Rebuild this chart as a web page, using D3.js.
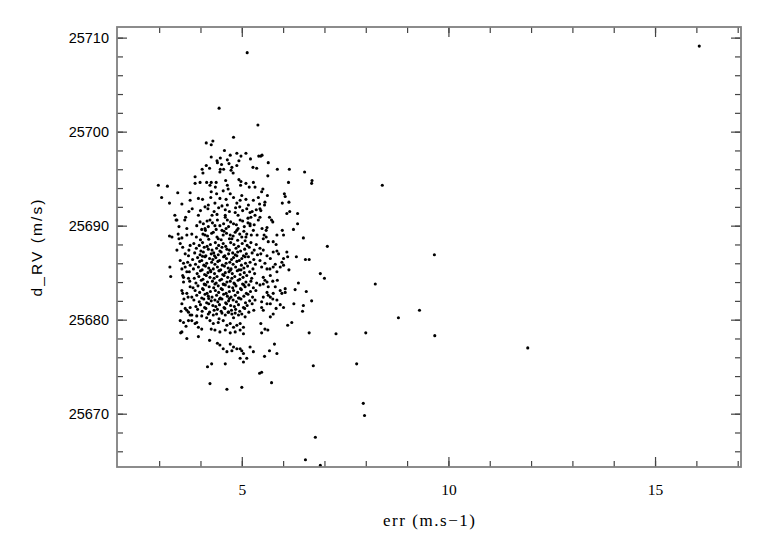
<!DOCTYPE html>
<html>
<head>
<meta charset="utf-8">
<script src="https://cdn.jsdelivr.net/npm/d3@7"></script>
<style>
  html, body { margin: 0; padding: 0; background: #fff; }
  svg { display: block; }
</style>
</head>
<body>
<div id="chart"></div>
<script>
// ---- data: [err (m.s-1), d_RV (m/s)] ----
const topCluster = [
[4.80,25699.4],[4.14,25698.8],[4.26,25698.6],[4.30,25699.0],[4.58,25698.0],[4.72,25697.5],[4.88,25697.7],[4.98,25697.4],[5.10,25697.7],[5.41,25697.4],
[4.26,25697.3],[4.48,25697.2],[4.40,25696.9],[4.65,25697.0],[4.69,25696.6],[4.93,25696.9],[4.88,25696.4],[5.21,25697.1],[5.27,25696.2],[5.36,25696.1],
[4.14,25696.4],[4.22,25696.1],[4.04,25696.0],[4.06,25695.6],[4.41,25696.7],[4.51,25696.5],[4.48,25696.0],[4.47,25695.7],[4.56,25696.0],[4.76,25696.2],
[4.74,25695.9],[4.79,25695.6],[3.87,25694.5],[3.99,25694.6],[4.15,25694.6],[4.26,25694.6],[4.23,25694.3],[4.38,25694.6],[4.36,25694.1],[4.61,25694.8],
[4.65,25694.3],[4.67,25693.9],[4.55,25693.7],[4.93,25694.9],[4.98,25694.7],[4.97,25694.3],[5.10,25694.5],[5.18,25694.1],[5.28,25694.6],[5.32,25694.1],
[3.75,25692.7],[3.80,25691.8],[4.05,25692.8],[3.95,25691.1],[4.11,25692.0],[4.25,25693.0],[4.19,25692.2],[4.26,25693.6],[4.39,25693.4],[4.35,25692.4],
[4.47,25692.9],[4.52,25692.1],[4.62,25692.8],[4.65,25692.2],[4.72,25693.4],[4.80,25693.0],[4.88,25692.4],[4.96,25692.7],[5.00,25693.2],[5.10,25692.8],
[5.16,25692.2],[5.28,25692.7],[5.40,25693.0],[3.41,25690.6],[3.62,25690.6],[3.48,25689.9],[3.67,25689.7],[3.79,25689.1],[3.91,25690.0],[3.99,25690.4],
[4.03,25689.6],[4.11,25689.0],[4.19,25689.9],[4.23,25690.6],[4.31,25689.3],[4.47,25690.0],[4.52,25689.5],[4.65,25690.6],[4.68,25689.9],[4.72,25689.0],
[4.80,25690.2],[4.88,25689.5],[4.96,25690.6],[5.00,25688.8],[5.06,25689.9],[5.12,25689.1],[5.20,25690.2],[5.28,25689.5],[5.40,25690.6],[3.55,25688.7],
[3.67,25689.0],[3.46,25689.1],[4.60,25691.1],[4.84,25691.4],[5.20,25690.0],[5.32,25691.1],[4.35,25690.0],[4.43,25688.6],[4.76,25688.6],[4.91,25691.1],
[5.08,25688.4],[5.20,25691.4],[5.37,25689.0],[4.57,25689.4],[4.28,25691.1],[4.11,25689.7],[4.91,25689.7],[5.15,25690.8]
];
const leftWing = [
[2.98,25694.3],[3.20,25694.2],[3.06,25693.0],[3.25,25692.4],[3.45,25693.5],[3.75,25693.5],[3.87,25695.2],[3.55,25692.3],[3.95,25692.9],[3.38,25691.1],
[3.43,25690.6],[3.64,25690.9],[3.72,25691.5],[3.25,25688.9],[3.31,25688.8],[3.48,25688.6],[3.26,25685.6],[3.57,25687.7],[3.63,25687.0],[3.51,25686.3],
[3.55,25685.4],[3.59,25684.5],[3.57,25682.8],[3.55,25681.7],[3.63,25681.2],[3.53,25680.9],[3.51,25679.9],[3.65,25679.3],[3.75,25680.5],[3.91,25680.4],
[3.51,25688.1],[3.43,25687.4],[3.75,25687.9],[3.71,25686.8],[3.59,25686.0],[3.63,25685.6],[3.67,25685.1],[3.75,25685.8],[3.57,25684.7],[3.28,25684.6],
[3.71,25684.4],[3.59,25684.0],[3.75,25683.5],[3.55,25683.1],[3.67,25682.8],[3.60,25682.2],[3.79,25682.4],[3.75,25681.3],[3.67,25681.0],[3.79,25680.5],
[3.59,25679.7],[3.71,25679.9],[3.87,25679.6],[3.55,25678.7],[3.67,25678.0],[4.03,25679.0],[3.95,25678.2],[3.52,25678.6]
];
const core = [
[3.84,25688.1],[3.97,25687.9],[4.05,25688.2],[4.16,25687.8],[4.24,25688.0],[4.36,25688.2],[4.44,25687.9],[4.55,25688.1],[4.61,25687.8],[4.73,25688.2],[4.81,25688.0],[4.92,25687.8],[5.01,25688.1],[5.13,25687.9],[5.22,25688.2],[5.35,25688.0],
[3.72,25687.4],[3.90,25687.6],[4.01,25687.3],[4.09,25687.7],[4.19,25687.5],[4.28,25687.4],[4.39,25687.6],[4.47,25687.3],[4.52,25687.7],[4.64,25687.5],[4.70,25687.4],[4.86,25687.6],[4.97,25687.3],[5.07,25687.5],[5.18,25687.7],[5.30,25687.4],
[3.86,25687.1],[3.99,25686.9],[4.07,25687.2],[4.13,25686.8],[4.26,25687.0],[4.32,25687.1],[4.43,25686.9],[4.50,25687.2],[4.59,25686.8],[4.68,25687.0],[4.78,25687.1],[4.84,25686.9],[4.90,25687.2],[5.04,25686.8],[5.11,25687.0],[5.25,25687.1],[5.38,25686.9],
[3.81,25686.4],[3.93,25686.6],[4.03,25686.3],[4.11,25686.7],[4.22,25686.5],[4.30,25686.4],[4.37,25686.6],[4.46,25686.3],[4.56,25686.7],[4.63,25686.5],[4.75,25686.4],[4.80,25686.6],[4.94,25686.3],[5.00,25686.5],[5.16,25686.7],[5.29,25686.4],
[3.69,25686.1],[3.88,25685.9],[3.98,25686.2],[4.08,25685.8],[4.15,25686.0],[4.27,25686.1],[4.35,25685.9],[4.42,25686.2],[4.53,25685.8],[4.62,25686.0],[4.71,25686.1],[4.79,25685.9],[4.88,25686.2],[4.99,25685.8],[5.09,25686.0],[5.20,25686.1],[5.33,25685.9],
[3.83,25685.4],[3.95,25685.6],[4.04,25685.3],[4.12,25685.7],[4.20,25685.5],[4.31,25685.4],[4.41,25685.6],[4.49,25685.3],[4.58,25685.7],[4.67,25685.5],[4.74,25685.4],[4.85,25685.6],[4.93,25685.3],[5.05,25685.5],[5.14,25685.7],[5.27,25685.4],
[3.73,25685.1],[3.92,25684.9],[4.00,25685.2],[4.10,25684.8],[4.18,25685.0],[4.25,25685.1],[4.34,25684.9],[4.45,25685.2],[4.54,25684.8],[4.60,25685.0],[4.69,25685.1],[4.77,25684.9],[4.89,25685.2],[4.96,25684.8],[5.06,25685.0],[5.19,25685.1],[5.31,25684.9],
[3.85,25684.4],[3.96,25684.6],[4.06,25684.3],[4.14,25684.7],[4.23,25684.5],[4.33,25684.4],[4.40,25684.6],[4.51,25684.3],[4.57,25684.7],[4.66,25684.5],[4.76,25684.4],[4.83,25684.6],[4.95,25684.3],[5.03,25684.5],[5.12,25684.7],[5.24,25684.4],
[3.74,25684.1],[3.89,25683.9],[4.02,25684.2],[4.09,25683.8],[4.17,25684.0],[4.29,25684.1],[4.38,25683.9],[4.47,25684.2],[4.55,25683.8],[4.64,25684.0],[4.72,25684.1],[4.81,25683.9],[4.91,25684.2],[5.02,25683.8],[5.10,25684.0],[5.22,25684.1],[5.36,25683.9],
[3.82,25683.4],[3.94,25683.6],[4.05,25683.3],[4.13,25683.7],[4.21,25683.5],[4.32,25683.4],[4.43,25683.6],[4.50,25683.3],[4.60,25683.7],[4.69,25683.5],[4.78,25683.4],[4.86,25683.6],[4.97,25683.3],[5.08,25683.5],[5.17,25683.7],[5.28,25683.4],
[3.87,25683.1],[3.98,25682.9],[4.07,25683.2],[4.16,25682.8],[4.24,25683.0],[4.36,25683.1],[4.44,25682.9],[4.53,25683.2],[4.62,25682.8],[4.70,25683.0],[4.80,25683.1],[4.90,25682.9],[4.99,25683.2],[5.11,25682.8],[5.21,25683.0],[5.34,25683.1],
[3.70,25682.4],[3.91,25682.6],[4.03,25682.3],[4.11,25682.7],[4.19,25682.5],[4.28,25682.4],[4.39,25682.6],[4.48,25682.3],[4.56,25682.7],[4.65,25682.5],[4.74,25682.4],[4.84,25682.6],[4.94,25682.3],[5.05,25682.5],[5.15,25682.7],[5.26,25682.4],
[3.84,25682.1],[3.97,25681.9],[4.08,25682.2],[4.15,25681.8],[4.26,25682.0],[4.35,25682.1],[4.42,25681.9],[4.52,25682.2],[4.61,25681.8],[4.68,25682.0],[4.79,25682.1],[4.87,25681.9],[4.98,25682.2],[5.09,25681.8],[5.19,25682.0],[5.32,25682.1],
[3.89,25681.4],[4.00,25681.6],[4.10,25681.3],[4.20,25681.7],[4.30,25681.5],[4.37,25681.4],[4.46,25681.6],[4.57,25681.3],[4.63,25681.7],[4.73,25681.5],[4.82,25681.4],[4.92,25681.6],[5.04,25681.3],[5.13,25681.5],[5.25,25681.7],
[3.93,25681.1],[4.04,25680.9],[4.13,25681.2],[4.22,25680.8],[4.33,25681.0],[4.41,25681.1],[4.50,25680.9],[4.59,25681.2],[4.67,25680.8],[4.75,25681.0],[4.85,25681.1],[4.95,25680.9],[5.07,25681.2],[5.17,25680.8],[5.29,25681.0],
[3.90,25688.8],[4.06,25689.1],[4.17,25688.9],[4.27,25689.2],[4.40,25688.8],[4.55,25689.0],[4.63,25689.2],[4.79,25688.9],[4.95,25689.1],[5.10,25688.8],[5.23,25689.0],
[4.07,25690.2],[4.16,25690.5],[4.29,25690.3],[4.41,25690.6],[4.56,25690.2],[4.73,25690.4],[4.87,25690.1],[5.02,25690.5],[5.15,25690.3],[5.30,25690.1],
[4.00,25691.6],[4.18,25691.8],[4.33,25691.5],[4.44,25691.9],[4.60,25691.7],[4.70,25691.5],[4.85,25691.9],[5.02,25691.6],[5.12,25691.8],[5.25,25691.5]
];
const coreExtra = [
[4.12,25689.5],[4.38,25689.6],[4.62,25689.7],[4.84,25689.3],[5.05,25689.4],[4.20,25688.55],[4.50,25688.5],[4.70,25688.6],[4.90,25688.45],
[4.05,25686.75],[4.34,25686.8],[4.58,25686.75],[4.88,25686.8],[5.08,25686.7],[4.24,25685.25],[4.45,25685.2],[4.72,25685.25],[4.98,25685.3],
[4.10,25683.75],[4.35,25683.8],[4.56,25683.75],[4.83,25683.8],[5.05,25683.7],[4.20,25682.25],[4.46,25682.2],[4.70,25682.25],[4.92,25682.3],
[4.15,25680.2],[4.45,25680.1],[4.80,25680.2],[4.00,25688.5],[4.60,25690.9],[4.40,25691.2],[4.95,25692.0]
];
const rightWing = [
[5.46,25697.4],[5.49,25697.5],[5.64,25696.7],[5.86,25696.0],[6.15,25696.0],[5.63,25695.3],[6.13,25694.6],[5.51,25693.9],[5.48,25693.6],[5.62,25693.2],
[6.03,25693.4],[6.05,25693.1],[5.98,25692.4],[6.14,25692.5],[5.56,25692.5],[5.55,25692.2],[5.44,25691.8],[5.46,25691.6],[6.09,25691.3],[6.16,25691.5],
[6.35,25691.3],[5.75,25690.4],[5.72,25690.6],[6.35,25690.2],[5.49,25689.7],[5.61,25689.8],[5.59,25689.5],[5.98,25689.5],[6.01,25689.0],[6.25,25689.6],
[5.54,25689.0],[5.59,25688.8],[5.76,25688.3],[5.83,25688.0],[5.44,25687.6],[5.52,25687.4],[5.76,25687.2],[5.85,25687.3],[5.89,25687.0],[6.09,25687.2],
[6.11,25686.7],[6.32,25686.7],[6.01,25686.5],[5.97,25686.1],[5.44,25686.3],[5.56,25686.0],[5.81,25685.9],[5.76,25685.6],[5.68,25685.4],[6.14,25685.3],
[5.86,25684.2],[5.75,25684.1],[5.61,25684.0],[5.52,25683.8],[6.37,25683.9],[6.29,25683.2],[6.05,25682.9],[5.97,25682.8],[5.76,25682.8],[5.64,25682.6],
[5.85,25682.1],[5.75,25682.2],[5.69,25682.4],[6.26,25681.7],[5.93,25681.6],[5.83,25681.2],[5.61,25681.7],[5.48,25681.3],[5.52,25681.0],[5.76,25680.6],
[5.69,25680.3],[6.21,25679.7],[6.11,25679.4],[5.46,25679.6],[5.56,25679.0],[5.63,25678.9],[5.48,25678.6],[5.79,25677.4],[5.85,25676.4],[5.67,25676.7],
[5.55,25676.1],[5.48,25674.4],[5.43,25674.3],[5.72,25673.3],[5.43,25692.3],[5.35,25691.7],[5.22,25690.9],[5.44,25690.9],[5.67,25690.9],[5.85,25689.0],
[5.52,25688.6],[5.64,25688.3],[5.46,25687.0],[5.61,25686.8],[5.69,25686.5],[5.93,25685.6],[6.01,25685.8],[5.85,25685.1],[5.48,25685.6],[5.61,25685.4],
[5.69,25684.7],[5.52,25684.5],[5.56,25684.2],[5.44,25683.7],[5.64,25683.5],[5.81,25683.5],[5.93,25683.1],[6.05,25683.3],[5.61,25682.9],[5.52,25682.4],
[5.48,25681.9],[5.69,25681.7],[6.01,25681.3]
];
const lowerCluster = [
[4.22,25677.8],[4.47,25677.3],[4.55,25676.9],[4.72,25677.4],[4.76,25676.7],[4.96,25676.9],[5.04,25676.4],[5.20,25677.1],[5.28,25676.6],[4.96,25675.9],
[5.04,25675.5],[5.12,25675.9],[4.27,25675.3],[4.60,25675.3],[4.17,25675.0],[3.71,25680.8],[4.03,25680.4],[4.19,25680.6],[4.31,25680.5],[4.39,25680.6],
[4.52,25680.7],[4.60,25680.5],[4.68,25680.8],[4.76,25680.6],[4.84,25680.7],[4.92,25680.5],[5.00,25680.6],[5.08,25680.3],[3.79,25679.9],[3.91,25679.7],
[3.95,25679.2],[4.23,25679.9],[4.31,25679.6],[4.43,25679.7],[4.55,25679.9],[4.64,25679.4],[4.72,25679.6],[4.80,25679.2],[4.88,25679.4],[4.96,25679.6],
[5.04,25679.2],[4.26,25679.0],[4.35,25678.9],[4.47,25678.7],[4.60,25678.9],[4.72,25678.6],[4.84,25678.7],[4.96,25678.9],[5.04,25678.5],[4.41,25677.5],
[4.64,25676.6],[4.80,25677.1],[4.88,25676.9],[5.00,25676.7],[4.23,25673.2],[4.64,25672.6],[5.00,25672.8]
];
const outliers = [
[16.07,25709.1],[5.13,25708.4],[4.45,25702.5],[5.39,25700.7],[6.52,25695.7],[6.69,25694.5],[6.70,25694.8],[8.40,25694.3],[6.49,25688.7],[7.07,25687.8],
[9.66,25686.9],[6.54,25686.4],[6.63,25686.4],[6.90,25684.9],[7.00,25684.4],[8.23,25683.8],[6.56,25683.0],[6.69,25682.0],[6.49,25681.5],[6.47,25680.9],
[9.30,25681.0],[8.79,25680.2],[6.63,25678.6],[7.28,25678.5],[8.00,25678.6],[9.67,25678.3],[11.92,25677.0],[6.73,25675.1],[7.78,25675.3],[7.94,25671.1],
[7.97,25669.8],[6.78,25667.5],[6.54,25665.1],[6.90,25664.5]
];
const xMajorTicks = [5, 10, 15];
const xMinorTicks = [3,4,5,6,7,8,9,10,11,12,13,14,15,16,17];
const yMajorTicks = [25670, 25680, 25690, 25700, 25710];
const yMinorTicks = [25666,25668,25670,25672,25674,25676,25678,25680,25682,25684,25686,25688,25690,25692,25694,25696,25698,25700,25702,25704,25706,25708,25710];
const xTitle = "err  (m.s\u22121)";
const yTitle = "d_RV  (m/s)";

// ---- drawing ----
const W = 782, H = 542;
const L = 117, R = 741, T = 27, B = 467;
const svg = d3.select("#chart").append("svg").attr("width", W).attr("height", H);

const x = d3.scaleLinear().domain([1.98, 17.08]).range([L, R]);
const y = d3.scaleLinear().domain([25664.33, 25711.13]).range([B, T]);

const allPoints = [].concat(topCluster, leftWing, core, coreExtra, rightWing, lowerCluster, outliers);

svg.append("g").selectAll("circle").data(allPoints).join("circle")
  .attr("cx", d => x(d[0])).attr("cy", d => y(d[1]))
  .attr("r", 1.55).attr("fill", "#000");

function styleAxis(g, labelFont, labelSize) {
  g.select(".domain").remove();
  g.selectAll(".tick line").attr("stroke", "#444").attr("stroke-width", 1.2);
  g.selectAll(".tick text").attr("fill", "#000")
    .attr("font-family", labelFont).attr("font-size", labelSize);
}

// bottom
svg.append("g").attr("transform", `translate(0,${B})`)
  .call(d3.axisBottom(x).tickValues(xMinorTicks).tickSize(-6).tickFormat(""))
  .call(g => styleAxis(g));
svg.append("g").attr("transform", `translate(0,${B})`)
  .call(d3.axisBottom(x).tickValues(xMajorTicks).tickSize(-10).tickPadding(17).tickFormat(d3.format("d")))
  .call(g => styleAxis(g, "'Liberation Serif', serif", 15.5));
// top
svg.append("g").attr("transform", `translate(0,${T})`)
  .call(d3.axisTop(x).tickValues(xMinorTicks).tickSize(-6).tickFormat(""))
  .call(g => styleAxis(g));
svg.append("g").attr("transform", `translate(0,${T})`)
  .call(d3.axisTop(x).tickValues(xMajorTicks).tickSize(-10).tickFormat(""))
  .call(g => styleAxis(g));
// left
svg.append("g").attr("transform", `translate(${L},0)`)
  .call(d3.axisLeft(y).tickValues(yMinorTicks).tickSize(-6).tickFormat(""))
  .call(g => styleAxis(g));
svg.append("g").attr("transform", `translate(${L},0)`)
  .call(d3.axisLeft(y).tickValues(yMajorTicks).tickSize(-10).tickPadding(8).tickFormat(d3.format("d")))
  .call(g => styleAxis(g, "'Liberation Sans', Arial, sans-serif", 14.5));
// right
svg.append("g").attr("transform", `translate(${R},0)`)
  .call(d3.axisRight(y).tickValues(yMinorTicks).tickSize(-6).tickFormat(""))
  .call(g => styleAxis(g));
svg.append("g").attr("transform", `translate(${R},0)`)
  .call(d3.axisRight(y).tickValues(yMajorTicks).tickSize(-10).tickFormat(""))
  .call(g => styleAxis(g));

// frame
svg.append("rect").attr("x", L).attr("y", T).attr("width", R - L).attr("height", B - T)
  .attr("fill", "none").attr("stroke", "#808080").attr("stroke-width", 1.8);

// titles
svg.append("text").attr("x", (L + R) / 2).attr("y", 526)
  .attr("text-anchor", "middle").attr("font-family", "'Liberation Serif', serif").attr("font-size", 17)
  .attr("textLength", 92).attr("lengthAdjust", "spacing")
  .attr("fill", "#000").text(xTitle);
svg.append("text").attr("transform", `translate(42,${(T + B) / 2 + 1}) rotate(-90)`)
  .attr("text-anchor", "middle").attr("font-family", "'Liberation Sans', Arial, sans-serif").attr("font-size", 15.5)
  .attr("textLength", 97).attr("lengthAdjust", "spacing")
  .attr("fill", "#000").text(yTitle);
</script>
</body>
</html>
